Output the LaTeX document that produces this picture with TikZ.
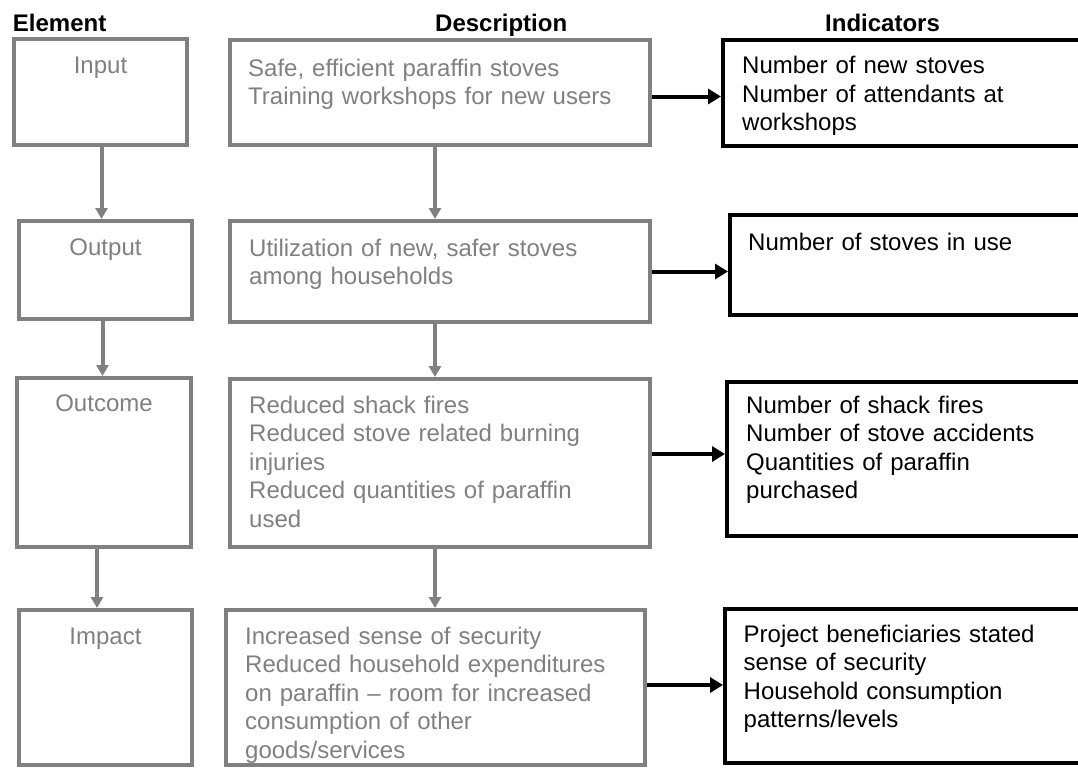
\documentclass[tikz,border=0pt]{standalone}
\usepackage{fontspec}
\setmainfont{Liberation Sans}
\usetikzlibrary{arrows.meta}
\definecolor{framegrey}{RGB}{128,128,128}

\begin{document}
\begin{tikzpicture}[x=1pt,y=-1pt,
  gbox/.style={draw=framegrey, line width=4pt, rectangle, inner sep=0pt},
  kbox/.style={draw=black, line width=4pt, rectangle, inner sep=0pt},
  body/.style={inner sep=0pt, text width=420pt, align=left,
               font=\fontsize{24pt}{28.5pt}\selectfont, anchor=base west},
  gtext/.style={body, text=framegrey},
  ktext/.style={body, text=black},
  elabel/.style={inner sep=0pt, anchor=base, text=framegrey,
                 font=\fontsize{24pt}{28.5pt}\selectfont},
  head/.style={inner sep=0pt, anchor=base west,
               font=\fontsize{24pt}{28.5pt}\selectfont\bfseries},
  garrow/.style={draw=framegrey, line width=4pt, -{Triangle[length=11pt,width=12pt]}},
  karrow/.style={draw=black, line width=4pt, -{Triangle[length=13pt,width=15pt]}},
]
\useasboundingbox (0,0) rectangle (1078,768);
\clip (0,0) rectangle (1078,768);

% column headings
\node[head] (hel)  at (12.7,31.7) {Element};
\node[head] (hdes) at (435,31.7)  {Description};
\node[head] (hind) at (825,31.7)  {Indicators};

% element column
\node[gbox, minimum width=173pt, minimum height=106pt] (E1) at (100.5,92)   {};
\node[gbox, minimum width=173pt, minimum height=98pt]  (E2) at (105.5,270)  {};
\node[gbox, minimum width=174pt, minimum height=169pt] (E3) at (104,462.5)  {};
\node[gbox, minimum width=173pt, minimum height=155pt] (E4) at (105.5,687.5){};
\node[elabel] (e1t) at (100.5,74)  {Input};
\node[elabel] (e2t) at (105.5,255) {Output};
\node[elabel] (e3t) at (104,411.7) {Outcome};
\node[elabel] (e4t) at (105.5,644) {Impact};

% description column
\node[gbox, minimum width=420pt, minimum height=105pt] (D1) at (440,92.5)   {};
\node[gbox, minimum width=420pt, minimum height=101pt] (D2) at (440,271.5)  {};
\node[gbox, minimum width=420pt, minimum height=168pt] (D3) at (440,463)    {};
\node[gbox, minimum width=419pt, minimum height=155pt] (D4) at (435.5,687.5){};
\node[gtext] (d1t) at (248,76)  {Safe, efficient paraffin stoves\\Training workshops for new users};
\node[gtext] (d2t) at (249,256) {Utilization of new, safer stoves\\among households};
\node[gtext] (d3t) at (249,413) {Reduced shack fires\\Reduced stove related burning\\injuries\\Reduced quantities of paraffin\\used};
\node[gtext] (d4t) at (245,644) {Increased sense of security\\Reduced household expenditures\\on paraffin – room for increased\\consumption of other\\goods/services};

% indicator column
\node[kbox, minimum width=377pt, minimum height=106pt] (I1) at (911.5,93)  {};
\node[kbox, minimum width=370pt, minimum height=100pt] (I2) at (915,265)   {};
\node[kbox, minimum width=373pt, minimum height=154pt] (I3) at (913.5,459) {};
\node[kbox, minimum width=375pt, minimum height=154pt] (I4) at (912.5,686) {};
\node[ktext] (i1t) at (742,73.5) {Number of new stoves\\Number of attendants at\\workshops};
\node[ktext] (i2t) at (748,250)  {Number of stoves in use};
\node[ktext] (i3t) at (746,413)  {Number of shack fires\\Number of stove accidents\\Quantities of paraffin\\purchased};
\node[ktext] (i4t) at (743.5,642){Project beneficiaries stated\\sense of security\\Household consumption\\patterns/levels};

% vertical links, element column
\coordinate (ea) at ([xshift=1pt]E1.south);
\coordinate (eb) at ([xshift=-3pt]E2.south);
\coordinate (ec) at ([xshift=-7pt]E3.south);
\draw[garrow] (ea) -- (ea |- E2.north);
\draw[garrow] (eb) -- (eb |- E3.north);
\draw[garrow] (ec) -- (ec |- E4.north);

% vertical links, description column
\coordinate (da) at ([xshift=-5pt]D1.south);
\coordinate (db) at ([xshift=-5pt]D2.south);
\coordinate (dc) at ([xshift=-5pt]D3.south);
\draw[garrow] (da) -- (da |- D2.north);
\draw[garrow] (db) -- (db |- D3.north);
\draw[garrow] (dc) -- (dc |- D4.north);

% links to the indicators
\coordinate (ka) at ([yshift=-4pt]D1.east);
\coordinate (kb) at (D2.east);
\coordinate (kc) at ([yshift=9pt]D3.east);
\coordinate (kd) at ([yshift=2.5pt]D4.east);
\draw[karrow] (ka) -- (ka -| I1.west);
\draw[karrow] (kb) -- (kb -| I2.west);
\draw[karrow] (kc) -- (kc -| I3.west);
\draw[karrow] (kd) -- (kd -| I4.west);
\end{tikzpicture}
\end{document}
